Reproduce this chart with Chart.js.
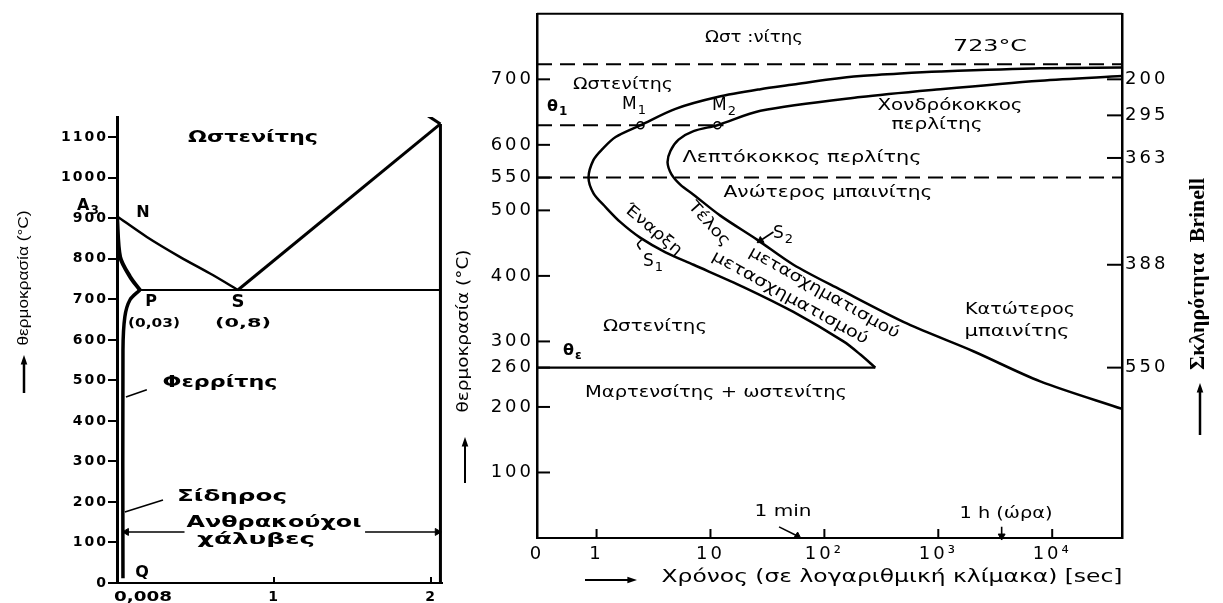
<!DOCTYPE html>
<html><head><meta charset="utf-8">
<script src="https://cdn.jsdelivr.net/npm/chart.js@4.4.1/dist/chart.umd.min.js"></script>
<style>
html,body{margin:0;padding:0;background:#fff;width:1223px;height:603px;overflow:hidden}
canvas{position:absolute;left:0;top:0}
</style></head>
<body>
<canvas id="left" width="1223" height="603"></canvas>
<canvas id="right" width="1223" height="603"></canvas>
<script>
// ================= DATA : left panel (Fe–C diagram, %C vs °C) =================
const leftTempTicks   = [0,100,200,300,400,500,600,700,800,900,1000,1100];
const leftCarbonTicks = [1,2];
const leftCarbonLabels= ['1','2'];
const a3Carbon  = [0,0.19,0.40,0.61,0.77];      const a3Temp  = [905,854,805,760,723];   // N – S
const acmCarbon = [0.77,2.06];                  const acmTemp = [723,1133];              // S – top right
const stubCarbon= [1.96,2.06];                  const stubTemp= [1158,1133];
const edgeCarbon= [2.06,2.06];                  const edgeTemp= [1133,0];
const a1Carbon  = [0.146,2.06];                 const a1Temp  = [723,723];               // P – S – ...
const gpCarbon  = [0,0.02,0.083,0.146];         const gpTemp  = [905,805,756,723];       // A3 – P
const pqCarbon  = [0.146,0.083,0.05,0.038,0.038]; const pqTemp = [723,699,657,575,12];   // P – Q
const ferriteLeaderC = [0.19,0.057];            const ferriteLeaderT = [477,459];
const ironLeaderC    = [0.293,0.05];            const ironLeaderT    = [205,175];
const steelLeftC  = [0.43,0.06];  const steelRightC = [1.58,2.04]; const steelT = [126,126];

// ================= DATA : right panel (TTT diagram, time s vs °C) =================
const rightTempTicks = [100,200,260,300,400,500,550,600,700];
const timeTicks  = [0.3,1,10,100,1000,10000];
const timeLabels = ['0','1','10','10²','10³','10⁴'];
const brinellTemps  = [700,645,580,417,260];
const brinellLabels = ['200','295','363','388','550'];
// start of transformation (S1): from the Ms apex, round the nose, up to the right edge
const startTime = [280,207,147,53.5,19.5,7.1,4.03,2.43,1.62,1.2,0.94,0.85,0.94,1.13,1.47,2.43,4.93,11.5,27.5,53.5,113,207,464,1040,7850,41000];
const startTemp = [260,280,300,345,383,417,436,458,482,505,526,550,577,594,612,630,655,673,685,692,700,705,709,712,717,718];
// end of transformation (S2)
const endTime   = [41000,7850,2030,535,138,53.5,25.8,12.2,7.1,5.46,4.55,4.2,4.46,5.25,7.1,11.5,27.5,207,1040,7850,41000];
const endTemp   = [197,239,285,327,379,417,455,492,524,539,555,573,591,608,621,630,652,673,685,698,705];
const a1TimeR = [0.3,41000];  const a1TempR = [723,723];
const bnTime  = [0.3,41000];  const bnTemp  = [550,550];
const th1Time = [0.3,13];     const th1Temp = [630,630];
const msTime  = [0.3,280];    const msTemp  = [260,260];
const mTime   = [2.43,11.5];  const mTemp   = [630,630];
const minArrowTime  = [40,58];     const minArrowTemp  = [17,3];
const hourArrowTime = [3600,3600]; const hourArrowTemp = [17,3];
const s2Time = [35.7,27.5];        const s2Temp = [467,454];
const s1Time = [2.48,2.29,2.43];   const s1Temp = [455,448,440];

// ================= helpers =================
Chart.defaults.font.family = '"DejaVu Sans"';
Chart.defaults.color = '#000';
const P = (xs, ys) => xs.map((x, i) => ({x, y: ys[i]}));
function line(xs, ys, o = {}) {
  return Object.assign({data: P(xs, ys), showLine: true, borderColor: '#000', borderWidth: 2.5,
    pointRadius: 0, tension: 0, fill: false}, o);
}
function arrowLine(xs, ys, rot, o = {}) {
  const n = xs.length;
  return line(xs, ys, Object.assign({borderWidth: 1.6, pointStyle: 'triangle',
    pointRadius: xs.map((_, i) => i === n - 1 ? 4 : 0),
    pointRotation: xs.map((_, i) => i === n - 1 ? rot : 0),
    pointBackgroundColor: '#000', pointBorderColor: '#000', pointBorderWidth: 1, clip: false}, o));
}
function txt(ctx, s, x, y, o = {}) {
  ctx.save();
  ctx.letterSpacing = '0px';
  ctx.font = (o.bold ? 'bold ' : '') + (o.size || 16) + 'px ' + (o.family || '"DejaVu Sans"');
  ctx.fillStyle = '#000'; ctx.textAlign = o.align || 'center'; ctx.textBaseline = 'middle';
  ctx.translate(x, y);
  if (o.a) ctx.rotate(o.a * Math.PI / 180);
  if (o.w) { const m = ctx.measureText(s).width; ctx.scale(o.w / m, 1); }
  ctx.fillText(s, 0, 0);
  ctx.restore();
}
function subTxt(ctx, base, sub, x, y, size, bold) {
  ctx.save();
  ctx.letterSpacing = '0px';
  ctx.fillStyle = '#000'; ctx.textAlign = 'left'; ctx.textBaseline = 'middle';
  ctx.font = (bold ? 'bold ' : '') + size + 'px "DejaVu Sans"';
  ctx.fillText(base, x, y);
  const w = ctx.measureText(base).width;
  ctx.font = (bold ? 'bold ' : '') + Math.round(size * 0.75) + 'px "DejaVu Sans"';
  ctx.fillText(sub, x + w + 1, y + size * 0.32);
  ctx.restore();
}
function arrow(ctx, x1, y1, x2, y2, head = 7, lw = 2) {
  ctx.save();
  ctx.strokeStyle = '#000'; ctx.fillStyle = '#000'; ctx.lineWidth = lw;
  const a = Math.atan2(y2 - y1, x2 - x1);
  ctx.beginPath(); ctx.moveTo(x1, y1);
  ctx.lineTo(x2 - Math.cos(a) * head * 0.8, y2 - Math.sin(a) * head * 0.8); ctx.stroke();
  ctx.beginPath(); ctx.moveTo(x2, y2);
  ctx.lineTo(x2 - Math.cos(a) * head * 1.6 + Math.sin(a) * head * 0.55, y2 - Math.sin(a) * head * 1.6 - Math.cos(a) * head * 0.55);
  ctx.lineTo(x2 - Math.cos(a) * head * 1.6 - Math.sin(a) * head * 0.55, y2 - Math.sin(a) * head * 1.6 + Math.cos(a) * head * 0.55);
  ctx.closePath(); ctx.fill();
  ctx.restore();
}
function seg(ctx, x1, y1, x2, y2, lw) {
  ctx.beginPath(); ctx.moveTo(x1, y1); ctx.lineTo(x2, y2); ctx.lineWidth = lw; ctx.stroke();
}
const common = {responsive: false, animation: false, devicePixelRatio: 1, events: [],
  plugins: {legend: {display: false}, tooltip: {enabled: false}}};

// ================= LEFT CHART =================
const leftDeco = {
  id: 'leftDeco',
  beforeDraw(c) { c.ctx.letterSpacing = '2px'; },
  afterDraw(c) {
    const ctx = c.ctx, xs = c.scales.x, a = c.chartArea;
    ctx.save(); ctx.strokeStyle = '#000';
    leftCarbonTicks.forEach(v => { const px = xs.getPixelForValue(v); seg(ctx, px, a.bottom, px, a.bottom - 6, 2); });
    ctx.restore();
    txt(ctx, '0,008', 143, 597, {bold: true, size: 14, w: 58});
    txt(ctx, 'Ωστενίτης', 253, 138, {bold: true, size: 16, w: 130});
    subTxt(ctx, 'A', '3', 77, 206, 16, true);
    txt(ctx, 'N', 143, 213, {bold: true, size: 16});
    txt(ctx, 'P', 151, 302, {bold: true, size: 16});
    txt(ctx, 'S', 238, 302, {bold: true, size: 18});
    txt(ctx, '(0,03)', 154, 324, {bold: true, size: 13, w: 52});
    txt(ctx, '(0,8)', 243, 324, {bold: true, size: 13, w: 56});
    txt(ctx, 'Φερρίτης', 220, 383, {bold: true, size: 16, w: 115});
    txt(ctx, 'Σίδηρος', 232, 497, {bold: true, size: 16, w: 110});
    txt(ctx, 'Ανθρακούχοι', 274, 523, {bold: true, size: 16, w: 175});
    txt(ctx, 'χάλυβες', 256, 540, {bold: true, size: 16, w: 118});
    txt(ctx, 'Q', 142, 573, {bold: true, size: 16});
    txt(ctx, 'θερμοκρασία (°C)', 24, 278, {size: 14, w: 135, a: -90, family: '"Liberation Sans Narrow", "Liberation Sans"'});
    arrow(ctx, 24, 393, 24, 355, 6, 2.5);
  }
};
new Chart(document.getElementById('left'), {
  type: 'scatter',
  data: {datasets: [
    line(a3Carbon, a3Temp, {borderWidth: 2.5, tension: 0.3}),
    line(acmCarbon, acmTemp, {borderWidth: 3}),
    line(stubCarbon, stubTemp, {borderWidth: 3}),
    line(edgeCarbon, edgeTemp, {borderWidth: 3}),
    line(a1Carbon, a1Temp, {borderWidth: 2}),
    line(gpCarbon, gpTemp, {borderWidth: 4, tension: 0.3}),
    line(pqCarbon, pqTemp, {borderWidth: 3.5, tension: 0.3}),
    line(ferriteLeaderC, ferriteLeaderT, {borderWidth: 1.6}),
    line(ironLeaderC, ironLeaderT, {borderWidth: 1.6}),
    arrowLine(steelLeftC, steelT, -90),
    arrowLine(steelRightC, steelT, 90)
  ]},
  options: Object.assign({}, common, {
    layout: {padding: {left: 0, top: 117, right: 781, bottom: 0}},
    scales: {
      x: {type: 'linear', min: 0, max: 2.07,
        afterFit: s => { s.height = 20; },
        afterBuildTicks: s => { s.ticks = leftCarbonTicks.map(v => ({value: v})); },
        ticks: {callback: (v, i) => leftCarbonLabels[i], font: {size: 14, weight: 'bold'}, padding: 6, maxRotation: 0, autoSkip: false},
        grid: {display: false, drawTicks: false}, border: {display: true, width: 2, color: '#000'}},
      y: {type: 'linear', min: 0, max: 1150,
        afterFit: s => { s.width = 117; },
        afterBuildTicks: s => { s.ticks = leftTempTicks.map(v => ({value: v})); },
        ticks: {callback: v => String(v), font: {size: 14, weight: 'bold'}, padding: 0, autoSkip: false},
        grid: {display: true, drawOnChartArea: false, drawTicks: true, tickLength: 9, color: '#000', lineWidth: 2},
        border: {display: true, width: 3, color: '#000'}}
    }
  }),
  plugins: [leftDeco]
});

// ================= RIGHT CHART =================
const rightDeco = {
  id: 'rightDeco',
  beforeDraw(c) { c.ctx.letterSpacing = '3px'; },
  afterDraw(c) {
    const ctx = c.ctx, a = c.chartArea, xs = c.scales.x, ys = c.scales.y, y2 = c.scales.y2;
    ctx.save(); ctx.strokeStyle = '#000';
    seg(ctx, a.left, a.top, a.right, a.top, 2);
    rightTempTicks.forEach(v => { const p = ys.getPixelForValue(v); seg(ctx, a.left, p, a.left + 13, p, 2); });
    brinellTemps.forEach(v => { const p = y2.getPixelForValue(v); seg(ctx, a.right - 15, p, a.right, p, 2); });
    timeTicks.slice(1).forEach(v => { const p = xs.getPixelForValue(v); seg(ctx, p, a.bottom, p, a.bottom - 9, 2); });
    ctx.restore();
    txt(ctx, 'Ωστ :νίτης', 754, 38, {w: 98});
    txt(ctx, '723°C', 990, 47, {w: 74});
    txt(ctx, 'Ωστενίτης', 623, 85, {w: 100});
    subTxt(ctx, 'θ', '1', 547, 107, 16, true);
    subTxt(ctx, 'M', '1', 622, 105, 17);
    subTxt(ctx, 'M', '2', 712, 106, 17);
    txt(ctx, 'Χονδρόκοκκος', 950, 106, {w: 145});
    txt(ctx, 'περλίτης', 937, 125, {w: 91});
    txt(ctx, 'Λεπτόκοκκος περλίτης', 802, 158, {w: 239});
    txt(ctx, 'Ανώτερος μπαινίτης', 828, 193, {w: 209});
    txt(ctx, 'Έναρξη', 653, 230, {w: 70, a: 40});
    txt(ctx, 'μετασχηματισμού', 790, 298, {w: 176, a: 29});
    txt(ctx, 'Τέλος', 709, 224, {w: 54, a: 48});
    txt(ctx, 'μετασχηματισμού', 824, 293, {w: 170, a: 29.5});
    subTxt(ctx, 'S', '1', 643, 262, 17);
    subTxt(ctx, 'S', '2', 773, 234, 17);
    txt(ctx, 'Ωστενίτης', 655, 327, {w: 104});
    subTxt(ctx, 'θ', 'ε', 563, 351, 16, true);
    txt(ctx, 'Μαρτενσίτης + ωστενίτης', 716, 393, {w: 262});
    txt(ctx, 'Κατώτερος', 1020, 310, {w: 110});
    txt(ctx, 'μπαινίτης', 1017, 332, {w: 105});
    txt(ctx, '1 min', 783, 512, {w: 57});
    txt(ctx, '1 h (ώρα)', 1006, 514, {w: 93});
    txt(ctx, 'Χρόνος (σε λογαριθμική κλίμακα) [sec]', 892, 578, {size: 17, w: 461});
    arrow(ctx, 585, 580, 637, 580, 6, 2);
    txt(ctx, 'θερμοκρασία (°C)', 464, 331, {size: 16, w: 163, a: -90});
    arrow(ctx, 465, 483, 465, 437, 6, 2);
    txt(ctx, 'Σκληρότητα  Brinell', 1199, 274, {size: 20, bold: true, w: 192, a: -90, family: '"Liberation Serif"'});
    arrow(ctx, 1200, 435, 1200, 383, 6, 2.5);
  }
};
new Chart(document.getElementById('right'), {
  type: 'scatter',
  data: {datasets: [
    line(a1TimeR, a1TempR, {borderWidth: 2, borderDash: [15, 8]}),
    line(bnTime, bnTemp, {borderWidth: 2, borderDash: [15, 8]}),
    line(th1Time, th1Temp, {borderWidth: 2, borderDash: [15, 8]}),
    line(msTime, msTemp, {borderWidth: 2.2}),
    line(startTime, startTemp, {borderWidth: 2.5, tension: 0.3}),
    line(endTime, endTemp, {borderWidth: 2.5, tension: 0.3}),
    {data: P(mTime, mTemp), showLine: false, pointRadius: 3.5, pointStyle: 'circle',
      pointBackgroundColor: '#fff', pointBorderColor: '#000', pointBorderWidth: 1.5},
    arrowLine(minArrowTime, minArrowTemp, 123),
    arrowLine(hourArrowTime, hourArrowTemp, 180),
    arrowLine(s2Time, s2Temp, 237),
    line(s1Time, s1Temp, {borderWidth: 1.6, tension: 0.3})
  ]},
  options: Object.assign({}, common, {
    layout: {padding: {left: 450, top: 10, right: 0, bottom: 0}},
    scales: {
      x: {type: 'logarithmic', min: 0.3, max: 41000,
        afterFit: s => { s.height = 65; },
        afterBuildTicks: s => { s.ticks = timeTicks.map(v => ({value: v})); },
        ticks: {callback: (v, i) => timeLabels[i], font: {size: 18}, padding: 6, maxRotation: 0, autoSkip: false},
        grid: {display: false, drawTicks: false}, border: {display: true, width: 2, color: '#000'}},
      y: {type: 'linear', position: 'left', min: 0, max: 800,
        afterFit: s => { s.width = 87; },
        afterBuildTicks: s => { s.ticks = rightTempTicks.map(v => ({value: v})); },
        ticks: {font: {size: 18}, padding: 3, autoSkip: false},
        grid: {display: false, drawTicks: false}, border: {display: true, width: 2.5, color: '#000'}},
      y2: {type: 'linear', position: 'right', min: 0, max: 800,
        afterFit: s => { s.width = 101; },
        afterBuildTicks: s => { s.ticks = brinellTemps.map(v => ({value: v})); },
        ticks: {callback: (v, i) => brinellLabels[i], font: {size: 18}, padding: 3, autoSkip: false},
        grid: {display: false, drawTicks: false}, border: {display: true, width: 2.5, color: '#000'}}
    }
  }),
  plugins: [rightDeco]
});
</script>
</body></html>
